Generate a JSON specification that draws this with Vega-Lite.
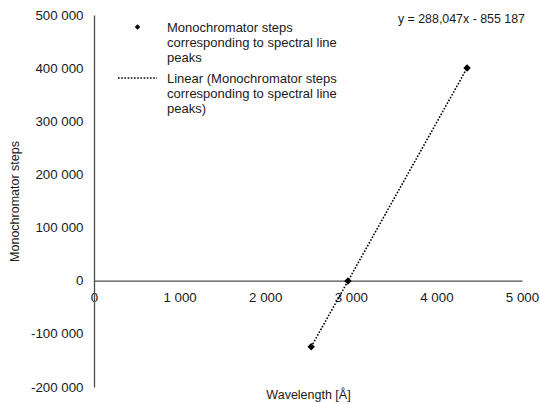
{
  "$schema": "https://vega.github.io/schema/vega-lite/v6.json",
  "width": 428,
  "height": 372,
  "autosize": "none",
  "padding": {"left": 94, "top": 15, "right": 17, "bottom": 16},
  "background": "white",
  "title": {
    "text": "y = 288,047x - 855 187",
    "anchor": "end",
    "frame": "group",
    "orient": "top",
    "offset": 0,
    "baseline": "middle",
    "dy": 23,
    "dx": 3,
    "fontSize": 12.4,
    "fontWeight": "normal",
    "color": "#1a1a1a"
  },
  "data": {
    "values": [
      {"wavelength": 2537, "steps": -124412},
      {"wavelength": 2967, "steps": -552},
      {"wavelength": 4358, "steps": 400122}
    ]
  },
  "encoding": {
    "x": {
      "field": "wavelength",
      "type": "quantitative",
      "scale": {"domain": [0, 5000], "nice": false, "zero": false},
      "axis": {
        "orient": "bottom",
        "offset": -106.29,
        "values": [0, 1000, 2000, 3000, 4000, 5000],
        "format": ",d",
        "ticks": false,
        "grid": false,
        "labelPadding": 5,
        "labelFlush": false,
        "labelOverlap": false,
        "title": "Wavelength [Å]",
        "titleY": 108,
        "titleBaseline": "top"
      }
    },
    "y": {
      "field": "steps",
      "type": "quantitative",
      "scale": {"domain": [-200000, 500000], "nice": false, "zero": false},
      "axis": {
        "values": [-200000, -100000, 0, 100000, 200000, 300000, 400000, 500000],
        "format": ",d",
        "ticks": false,
        "grid": false,
        "labelPadding": 11,
        "labelOffset": -5,
        "labelFlush": false,
        "labelOverlap": false,
        "title": "Monochromator steps",
        "titlePadding": 9
      }
    }
  },
  "layer": [
    {
      "transform": [{"regression": "steps", "on": "wavelength"}],
      "mark": {"type": "line", "color": "black", "strokeWidth": 1.6},
      "encoding": {
        "strokeDash": {
          "datum": "Linear",
          "scale": {"range": [[1.6, 1.6]]},
          "legend": {
            "orient": "none",
            "legendX": 23,
            "legendY": 42.5,
            "title": null,
            "padding": 0,
            "symbolType": "stroke",
            "symbolSize": 1521,
            "symbolStrokeWidth": 1.6,
            "symbolStrokeColor": "black",
            "labelOffset": 9,
            "labelBaseline": "alphabetic",
            "labelFontSize": 13,
            "labelColor": "#1a1a1a",
            "labelLimit": 400,
            "labelExpr": "['Linear (Monochromator steps', 'corresponding to spectral line', 'peaks)']"
          }
        }
      }
    },
    {
      "mark": {"type": "point", "shape": "diamond", "filled": true, "color": "black", "size": 55, "opacity": 1},
      "encoding": {
        "shape": {
          "datum": "Monochromator",
          "scale": {"range": ["diamond"]},
          "legend": {
            "orient": "none",
            "legendX": 37,
            "legendY": 5.5,
            "title": null,
            "padding": 0,
            "symbolType": "diamond",
            "symbolSize": 30,
            "symbolFillColor": "black",
            "symbolStrokeColor": "black",
            "symbolOpacity": 1,
            "labelOffset": 23,
            "labelBaseline": "alphabetic",
            "labelFontSize": 13,
            "labelColor": "#1a1a1a",
            "labelLimit": 400,
            "labelExpr": "['Monochromator steps', 'corresponding to spectral line', 'peaks']"
          }
        }
      }
    }
  ],
  "resolve": {"legend": {"shape": "independent", "strokeDash": "independent"}},
  "config": {
    "font": "Liberation Sans",
    "locale": {
      "number": {"decimal": ",", "thousands": " ", "grouping": [3], "currency": ["", ""], "minus": "-"}
    },
    "style": {"guide-label": {"lineHeight": 15, "dy": 5}},
    "view": {"stroke": null},
    "axis": {
      "domainColor": "#4d4d4d",
      "domainWidth": 1.3,
      "labelFontSize": 13.3,
      "labelColor": "#1a1a1a",
      "titleFontSize": 12.5,
      "titleFontWeight": "normal",
      "titleColor": "#1a1a1a"
    }
  }
}
